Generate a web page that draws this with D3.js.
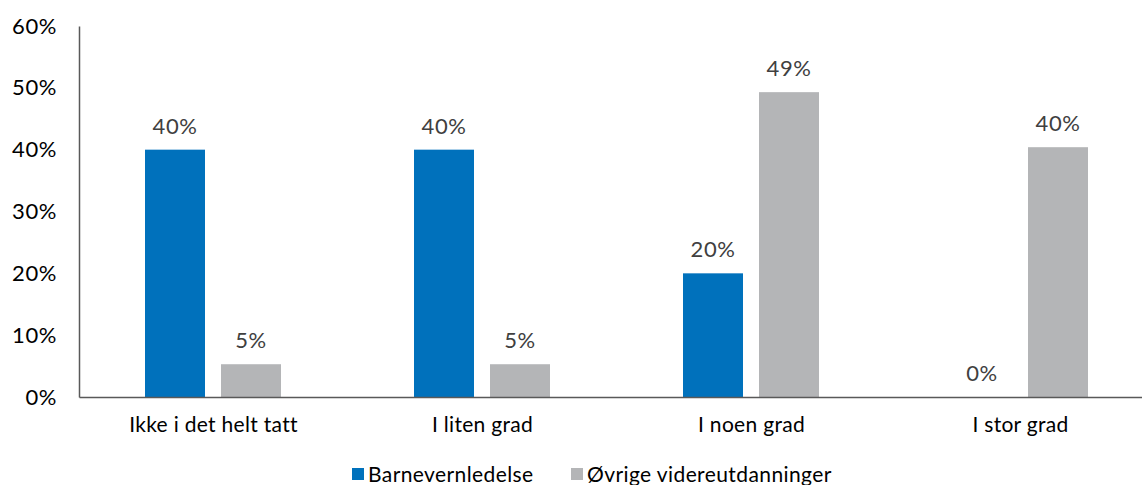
<!DOCTYPE html>
<html>
<head>
<meta charset="utf-8">
<script src="https://cdn.jsdelivr.net/npm/d3@7"></script>
<style>
  html, body { margin: 0; padding: 0; background: #fff; }
  svg { display: block; font-family: "Lato", "DejaVu Sans", sans-serif; }
</style>
</head>
<body>
<svg id="chart" width="1142" height="485"></svg>
<script>
// Survey answers per category, two groups
const categories = ["Ikke i det helt tatt", "I liten grad", "I noen grad", "I stor grad"];
const seriesNames = ["Barnevernledelse", "Øvrige videreutdanninger"];
const barnevernledelse = [0.40, 0.40, 0.20, 0.00];
const ovrige = [0.053, 0.053, 0.493, 0.404];
const yTicks = [0, 0.1, 0.2, 0.3, 0.4, 0.5, 0.6];
const colors = ["#0071BC", "#B4B5B7"];

const svg = d3.select("#chart");
const margin = { left: 79, right: -13, top: 26, bottom: 88 };
const width = 1142, height = 485;

const x0 = d3.scaleBand()
  .domain(categories)
  .range([margin.left, width - margin.right])
  .paddingInner(0)
  .paddingOuter(0);

// Two bars per category with a small gap between them
const x1 = d3.scaleBand()
  .domain(seriesNames)
  .range([66, 202])
  .paddingInner(16 / 76)
  .paddingOuter(0);

const y = d3.scaleLinear()
  .domain([0, 0.6])
  .range([height - margin.bottom, margin.top]);

const rows = categories.map((c, i) => ({
  category: c,
  values: [
    { series: seriesNames[0], value: barnevernledelse[i] },
    { series: seriesNames[1], value: ovrige[i] }
  ]
}));

const fmt = d3.format(".0%");

// Bars
const groups = svg.append("g").selectAll("g")
  .data(rows)
  .join("g")
  .attr("transform", d => `translate(${x0(d.category)},0)`);

groups.selectAll("rect")
  .data(d => d.values)
  .join("rect")
  .attr("x", d => x1(d.series))
  .attr("width", x1.bandwidth())
  .attr("y", d => y(d.value))
  .attr("height", d => y(0) - y(d.value))
  .attr("fill", (d, i) => colors[i]);

// Value labels above bars
groups.selectAll("text")
  .data(d => d.values)
  .join("text")
  .attr("x", d => x1(d.series) + x1.bandwidth() / 2)
  .attr("y", d => y(d.value) - 16)
  .attr("text-anchor", "middle")
  .attr("font-size", 22)
  .attr("letter-spacing", 0.6)
  .attr("fill", "#404040")
  .text(d => fmt(d.value));

// Y axis
const yAxis = svg.append("g")
  .attr("transform", `translate(${margin.left},0)`)
  .call(d3.axisLeft(y).tickValues(yTicks).tickFormat(fmt).tickSize(0).tickPadding(22));
yAxis.select(".domain").attr("stroke", "#595959").attr("stroke-width", 1.5);
yAxis.selectAll(".tick text")
  .attr("font-size", 22)
  .attr("letter-spacing", 0.6)
  .attr("fill", "#000")
  .attr("font-family", "Lato, sans-serif");

// X axis
const xAxis = svg.append("g")
  .attr("transform", `translate(0,${y(0)})`)
  .call(d3.axisBottom(x0).tickSize(0).tickPadding(20));
xAxis.select(".domain").attr("stroke", "#595959").attr("stroke-width", 1.5);
xAxis.selectAll(".tick text")
  .attr("font-size", 21)
  .attr("letter-spacing", 0.3)
  .attr("fill", "#000")
  .attr("font-family", "Lato, sans-serif");

// Legend
const legendItems = [
  { name: seriesNames[0], color: colors[0], x: 352 },
  { name: seriesNames[1], color: colors[1], x: 571 }
];
const legend = svg.append("g").selectAll("g")
  .data(legendItems)
  .join("g")
  .attr("transform", d => `translate(${d.x},468)`);
legend.append("rect")
  .attr("width", 12).attr("height", 12)
  .attr("fill", d => d.color);
legend.append("text")
  .attr("x", 16).attr("y", 14)
  .attr("font-size", 21)
  .attr("letter-spacing", 0.4)
  .attr("fill", "#000")
  .text(d => d.name);
</script>
</body>
</html>
